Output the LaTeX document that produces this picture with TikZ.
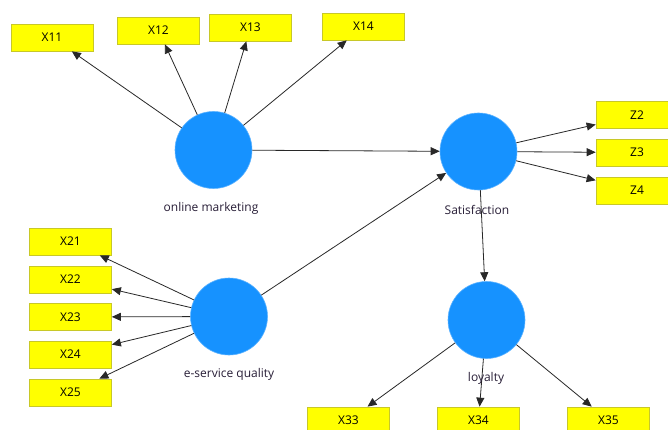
\documentclass[tikz,border=0pt]{standalone}
\usepackage{fontspec}
\setmainfont{Open Sans}
\usetikzlibrary{arrows.meta}
\definecolor{lvblue}{RGB}{22,146,255}
\definecolor{indyel}{RGB}{255,255,0}
\definecolor{indbord}{RGB}{200,200,40}
\definecolor{linegray}{RGB}{40,40,40}
\definecolor{labtext}{RGB}{40,30,55}
\tikzset{
  latent/.style={circle, fill=lvblue, draw=lvblue!70!white, line width=0.6pt, minimum size=77pt, inner sep=0pt},
  indic/.style={rectangle, fill=indyel, draw=indbord, line width=0.7pt, minimum width=82pt, minimum height=27pt, inner sep=0pt, font=\fontsize{12}{14}\selectfont, text=black},
  lvlabel/.style={font=\fontsize{12}{14}\selectfont, text=labtext, inner sep=1pt},
  path/.style={draw=linegray, line width=0.8pt, -{Triangle[length=9pt,width=8pt]}}
}
\begin{document}
\begin{tikzpicture}[x=1pt,y=-1pt]
\useasboundingbox (0,0) rectangle (668,430);
\fill[white] (0,0) rectangle (668,430);
\clip (0,0) rectangle (668,430);
% latent variables
\node[latent] (om) at (213.5,150) {};
\node[latent] (sat) at (478.5,151.5) {};
\node[latent] (esq) at (229,316.5) {};
\node[latent] (loy) at (486.5,320) {};
% labels
\node[lvlabel] (omlab) at (211,208) {online marketing};
\node[lvlabel] (satlab) at (477,210) {Satisfaction};
\node[lvlabel] (esqlab) at (229,374) {e-service quality};
% indicators
\node[indic] (x11) at (52,37.5) {X11};
\node[indic] (x12) at (158.5,30.5) {X12};
\node[indic] (x13) at (250.5,27.5) {X13};
\node[indic] (x14) at (363.5,26.5) {X14};
\node[indic] (z2) at (637,115) {Z2};
\node[indic] (z3) at (637,152.5) {Z3};
\node[indic] (z4) at (637,190.5) {Z4};
\node[indic] (x21) at (70.5,241.5) {X21};
\node[indic] (x22) at (70.5,279.5) {X22};
\node[indic] (x23) at (70.5,317) {X23};
\node[indic] (x24) at (70.5,354.5) {X24};
\node[indic] (x25) at (70.5,392.5) {X25};
\node[indic] (x33) at (348.5,420.5) {X33};
\node[indic] (x34) at (478.5,420.5) {X34};
\node[indic] (x35) at (608.5,420.5) {X35};
% outer model arrows
\foreach \t in {x11,x12,x13,x14} \draw[path] (om) -- (\t);
\foreach \t in {z2,z3,z4} \draw[path] (sat) -- (\t);
\foreach \t in {x21,x22,x23,x24,x25} \draw[path] (esq) -- (\t);
\foreach \t in {x33,x34,x35} \draw[path] (loy) -- (\t);
% inner model arrows
\draw[path] (om) -- (sat);
\draw[path] (esq) -- (sat);
\draw[path] (sat) -- (loy);
% loyalty label drawn over the arrow
\node[lvlabel] (loylab) at (486,378) {loyalty};
\end{tikzpicture}
\end{document}
